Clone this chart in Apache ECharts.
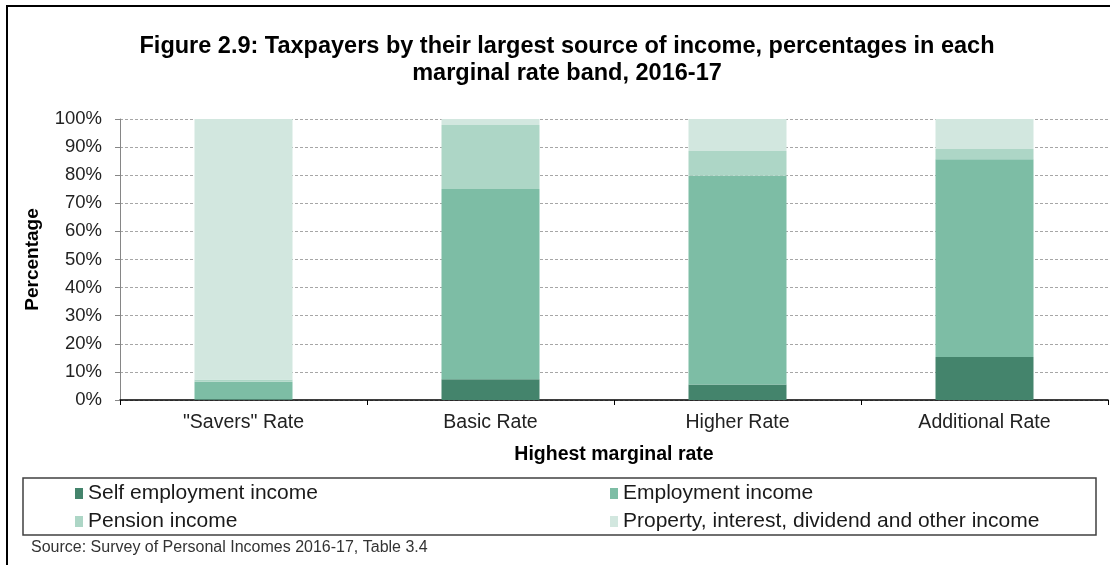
<!DOCTYPE html>
<html>
<head>
<meta charset="utf-8">
<script src="https://cdn.jsdelivr.net/npm/echarts@6/dist/echarts.min.js"></script>
<style>
  html, body { margin: 0; padding: 0; background: #fff; }
  #chart { width: 1110px; height: 565px; }
</style>
</head>
<body>
<div id="chart"></div>
<script>
// Marginal rate bands (x axis)
const categories = ['"Savers" Rate', 'Basic Rate', 'Higher Rate', 'Additional Rate'];

// Share of taxpayers (%) by largest source of income, per band
const selfEmployment = [0.3, 7.4, 5.5, 15.3];
const employment     = [6.2, 67.7, 74.3, 70.4];
const pension        = [0.8, 22.8, 8.8, 3.6];
const propertyOther  = [92.7, 2.1, 11.4, 10.7];

const seriesNames = [
  'Self employment income',
  'Employment income',
  'Pension income',
  'Property, interest, dividend and other income'
];
const seriesColors = ['#44846c', '#7dbda5', '#add6c6', '#d2e7df'];
const seriesData = [selfEmployment, employment, pension, propertyOther];

const FONT = '"Liberation Sans", Arial, sans-serif';

const chart = echarts.init(document.getElementById('chart'), null, { renderer: 'canvas' });

// One legend entry per component so the 2x2 grid sits exactly in the box
const legendSlots = [
  { left: 75,  top: 483 },
  { left: 610, top: 483 },
  { left: 75,  top: 511 },
  { left: 610, top: 511 }
];
const legends = seriesNames.map((name, i) => ({
  orient: 'horizontal',
  left: legendSlots[i].left,
  top: legendSlots[i].top,
  itemWidth: 8,
  itemHeight: 11,
  icon: 'rect',
  padding: 0,
  selectedMode: false,
  data: [name],
  textStyle: { fontFamily: FONT, fontSize: 21, color: '#1a1a1a' }
}));

chart.setOption({
  animation: false,
  backgroundColor: '#ffffff',
  textStyle: { fontFamily: FONT },
  title: {
    text: 'Figure 2.9: Taxpayers by their largest source of income, percentages in each\nmarginal rate band, 2016-17',
    left: 562,
    top: 28,
    textAlign: 'center',
    textStyle: {
      fontFamily: FONT,
      fontSize: 23.5,
      fontWeight: 'bold',
      color: '#000',
      lineHeight: 27
    }
  },
  legend: legends,
  grid: { left: 120, right: 2, top: 119, bottom: 165, containLabel: false },
  xAxis: {
    type: 'category',
    data: categories,
    name: 'Highest marginal rate',
    nameLocation: 'middle',
    nameGap: 45,
    nameTextStyle: { fontFamily: FONT, fontSize: 19.5, fontWeight: 'bold', color: '#000' },
    axisLine: { lineStyle: { color: '#000', width: 1.5 } },
    axisTick: { show: true, length: 5, lineStyle: { color: '#000' } },
    axisLabel: { fontFamily: FONT, fontSize: 19.5, color: '#222', margin: 13 }
  },
  yAxis: {
    type: 'value',
    min: 0,
    max: 100,
    interval: 10,
    name: 'Percentage',
    nameLocation: 'middle',
    nameRotate: 90,
    nameGap: 78,
    nameTextStyle: { fontFamily: FONT, fontSize: 19, fontWeight: 'bold', color: '#000' },
    axisLine: { show: true, lineStyle: { color: '#868686', width: 1 } },
    axisTick: { show: true, length: 5, lineStyle: { color: '#868686' } },
    axisLabel: { fontFamily: FONT, fontSize: 18.5, color: '#222', margin: 18, formatter: '{value}%' },
    splitLine: { show: true, lineStyle: { color: '#a6a6a6', type: [3, 2], width: 1 } }
  },
  series: seriesNames.map((name, i) => ({
    name: name,
    type: 'bar',
    stack: 'share',
    barWidth: 98,
    itemStyle: { color: seriesColors[i] },
    emphasis: { disabled: true },
    data: seriesData[i]
  })),
  graphic: [
    {
      type: 'rect',
      shape: { x: 7, y: 6, width: 1200, height: 700 },
      style: { fill: 'none', stroke: '#000', lineWidth: 2 },
      silent: true,
      z: -1
    },
    {
      type: 'rect',
      shape: { x: 23, y: 478, width: 1073, height: 57 },
      style: { fill: 'none', stroke: '#404040', lineWidth: 1.5 },
      silent: true,
      z: -1
    },
    {
      type: 'text',
      left: 31,
      top: 540,
      style: {
        text: 'Source: Survey of Personal Incomes 2016-17, Table 3.4',
        fontFamily: FONT,
        fontSize: 16,
        fill: '#333'
      },
      silent: true
    }
  ]
});
</script>
</body>
</html>
